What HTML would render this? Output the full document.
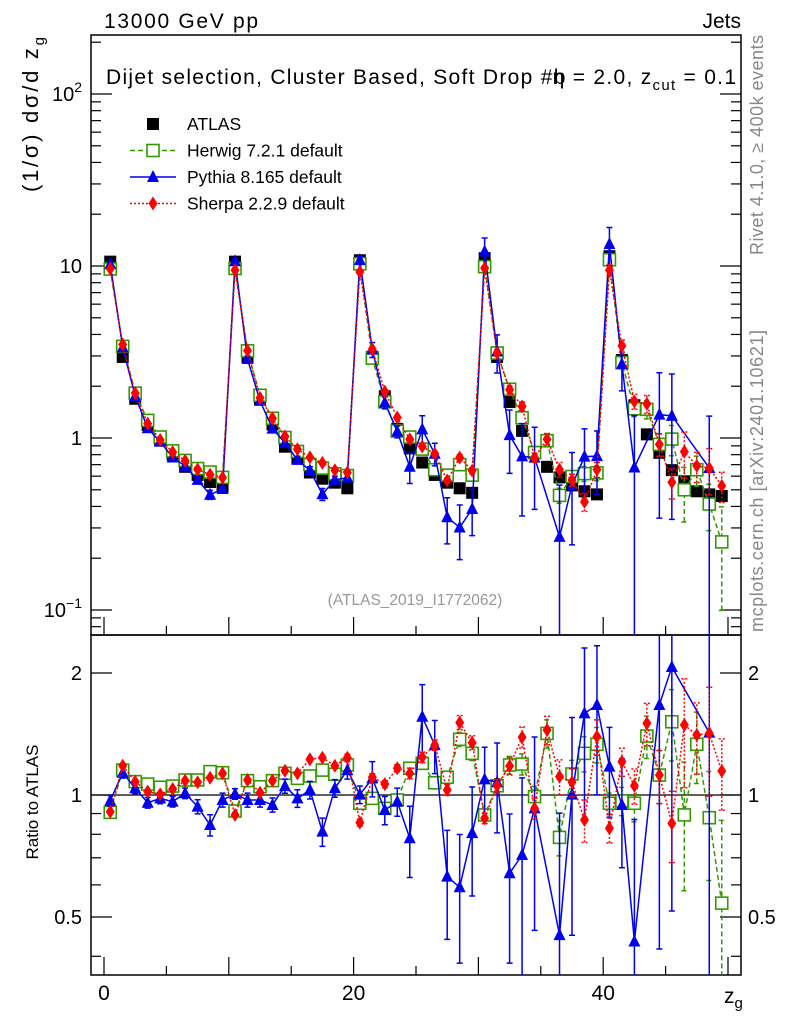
<!DOCTYPE html>
<html><head><meta charset="utf-8"><style>
body{margin:0;background:#fff;overflow:hidden}
svg{display:block;font-family:"Liberation Sans",sans-serif}
</style></head><body>
<svg id="c" width="786" height="1024" viewBox="0 0 786 1024" xmlns="http://www.w3.org/2000/svg">
<defs>
<clipPath id="cm"><rect x="91" y="35" width="650" height="600"/></clipPath>
<clipPath id="cr"><rect x="91" y="635" width="650" height="340"/></clipPath>
</defs>
<text x="104" y="28" font-size="21" textLength="154">13000 GeV pp</text>
<text x="741" y="28" font-size="21" text-anchor="end">Jets</text>
<text x="106" y="84" font-size="21" textLength="630" lengthAdjust="spacing">Dijet selection, Cluster Based, Soft Drop #b<tspan dx="-14">η = 2.0, z</tspan><tspan font-size="15" dy="6">cut</tspan><tspan dy="-6"> = 0.1</tspan></text>
<text transform="translate(38,192) rotate(-90)" font-size="22" textLength="155">(1/σ) dσ/d z<tspan font-size="15" dy="6">g</tspan></text>
<text transform="translate(38,802) rotate(-90)" font-size="17" text-anchor="middle">Ratio to ATLAS</text>
<text transform="translate(763,255) rotate(-90)" font-size="18" fill="#888" textLength="220">Rivet 4.1.0, ≥ 400k events</text>
<text transform="translate(763,632) rotate(-90)" font-size="18" fill="#888" textLength="302">mcplots.cern.ch [arXiv:2401.10621]</text>
<text x="415" y="605" font-size="15.5" fill="#999" text-anchor="middle">(ATLAS_2019_I1772062)</text>
<text x="724" y="1003" font-size="21">z<tspan font-size="15" dy="5">g</tspan></text>
<g id="axes"></g>
<g id="series-main" clip-path="url(#cm)"></g>
<g id="series-ratio" clip-path="url(#cr)"></g>
<g id="legend"></g>
</svg>
<script>
const bins = [0.5,1.5,2.5,3.5,4.5,5.5,6.5,7.5,8.5,9.5,10.5,11.5,12.5,13.5,14.5,15.5,16.5,17.5,18.5,19.5,20.5,21.5,22.5,23.5,24.5,25.5,26.5,27.5,28.5,29.5,30.5,31.5,32.5,33.5,34.5,35.5,36.5,37.5,38.5,39.5,40.5,41.5,42.5,43.5,44.5,45.5,46.5,47.5,48.5,49.5];
const atlas = [10.6,2.96,1.69,1.19,0.97,0.80,0.68,0.61,0.555,0.52,10.6,2.96,1.69,1.2,0.89,0.76,0.63,0.58,0.55,0.51,10.8,2.97,1.75,1.13,0.87,0.72,0.61,0.55,0.51,0.48,11.1,2.96,1.62,1.10,0.83,0.68,0.59,0.53,0.49,0.47,11.4,2.84,1.55,1.05,0.82,0.65,0.56,0.49,0.47,0.46];
const herwigRatio = [0.906,1.152,1.079,1.064,1.045,1.052,1.089,1.089,1.142,1.135,0.913,1.085,1.048,1.085,1.131,1.099,1.114,1.152,1.125,1.186,0.954,0.981,0.927,0.972,1.164,1.197,1.072,1.106,1.372,1.267,0.893,1.054,1.186,1.192,0.991,1.419,0.786,1.127,1.267,1.334,0.954,0.967,0.954,1.398,1.12,1.516,0.893,1.334,0.879,0.541];
const pythiaRatio = [0.968,1.135,1.039,0.957,0.981,0.963,1.01,0.936,0.843,0.972,1.006,0.972,0.972,0.945,1.052,0.981,1.029,0.812,1.039,1.152,1.002,1.099,0.918,0.963,0.782,1.56,1.328,0.629,0.592,0.805,1.093,1.075,0.641,0.711,0.927,null,0.451,1.002,1.59,1.668,1.175,0.945,0.435,null,1.668,2.07,null,null,1.425,null];
const sherpaRatio = [0.909,1.181,1.079,1.019,1.004,1.035,1.085,1.075,1.103,1.131,0.893,1.089,1.013,1.085,1.148,1.131,1.225,1.236,1.181,1.236,0.855,1.106,1.064,1.164,1.131,1.239,1.328,1.029,1.509,1.346,0.876,1.054,1.179,1.388,0.927,1.447,1.11,1.075,0.868,1.393,0.828,1.208,1.054,1.503,1.12,0.851,1.489,1.406,1.419,1.146];
const pythiaErr = [0.03,0.03,0.03,0.03,0.03,0.03,0.03,0.04,0.06,0.04,0.03,0.04,0.04,0.04,0.04,0.05,0.05,0.08,0.05,0.05,0.05,0.1,0.08,0.08,0.2,0.2,0.15,0.3,0.35,0.3,0.2,0.25,0.4,0.55,0.5,0,1.0,0.55,0.45,0.4,0.25,0.3,1.0,0,0.75,0.75,0,0,1.0,0];
const herwigErr = [0.01,0.01,0.01,0.01,0.01,0.01,0.01,0.01,0.01,0.01,0.01,0.01,0.01,0.01,0.01,0.01,0.01,0.01,0.01,0.02,0.02,0.02,0.02,0.02,0.03,0.03,0.03,0.03,0.04,0.04,0.03,0.04,0.05,0.06,0.06,0.08,0.1,0.08,0.1,0.1,0.06,0.08,0.1,0.12,0.15,0.2,0.35,0.2,0.3,0.6];
const sherpaErr = [0.01,0.01,0.01,0.01,0.01,0.01,0.01,0.01,0.01,0.01,0.01,0.01,0.01,0.01,0.01,0.01,0.01,0.01,0.01,0.02,0.02,0.02,0.02,0.02,0.03,0.03,0.03,0.03,0.04,0.04,0.03,0.04,0.05,0.06,0.06,0.08,0.1,0.08,0.12,0.1,0.08,0.08,0.1,0.12,0.15,0.2,0.3,0.2,0.3,0.2];
const xTicks = [0,20,40];
const yMainTicks = [100,10,1,0.1];
const yRatioTicks = [2,1,0.5];

const NS='http://www.w3.org/2000/svg';
const X = v => 104 + 12.48*v;
const Ym = v => 438 - 172*Math.log10(v);
const Yr = r => 795 - 122*Math.log2(r);
function mk(parent,tag,attrs){const e=document.createElementNS(NS,tag);for(const k in attrs)e.setAttribute(k,attrs[k]);parent.appendChild(e);return e;}
const axes=document.getElementById('axes');
const gm=document.getElementById('series-main');
const gr=document.getElementById('series-ratio');
const leg=document.getElementById('legend');

let f1=mk(axes,'rect',{x:91,y:35,width:650,height:600,fill:'none',stroke:'#000','stroke-width':1.5});


let f2=mk(axes,'rect',{x:91,y:635,width:650,height:340,fill:'none',stroke:'#000','stroke-width':1.5});


let one=mk(axes,'line',{x1:91,x2:741,y1:Yr(1),y2:Yr(1),stroke:'#000','stroke-width':1.2});



for(let v=0;v<=50;v+=5){
  const L = v%10===0?18:9;
  for(const yb of [635,975]){
    const t=mk(axes,'line',{x1:X(v),x2:X(v),y1:yb,y2:yb-L,stroke:'#000','stroke-width':1.2});
    
    
  }
}
xTicks.forEach(v=>{
  const t=mk(axes,'text',{x:X(v),y:1000,'font-size':21,'text-anchor':'middle'});
  t.textContent=v;
  
  
});
for(let d=-2;d<=2;d++){
  for(let m=1;m<=9;m++){
    const v=m*Math.pow(10,d); const y=Ym(v);
    if(y<35||y>635)continue;
    const L=m===1?21:10;
    const t1=mk(axes,'line',{x1:91,x2:91+L,y1:y,y2:y,stroke:'#000','stroke-width':1.2});
    
    
    const t2=mk(axes,'line',{x1:741,x2:741-L,y1:y,y2:y,stroke:'#000','stroke-width':1.2});
    
    
  }
}
yMainTicks.forEach(v=>{
  const t=mk(axes,'text',{x:82,y:Ym(v)+7,'font-size':20,'text-anchor':'end'});
  const e=Math.round(Math.log10(v));
  if(e===1)t.textContent='10';
  else if(e===0)t.textContent='1';
  else{t.textContent='10';const s=mk(t,'tspan',{dy:-9,'font-size':14});s.textContent=(e<0?'−':'')+Math.abs(e);}
  
  
});
[0.4,0.5,0.6,0.7,0.8,0.9,1,2].forEach(v=>{
  const y=Yr(v); if(y<635||y>975)return;
  const L=(v===1||v===2||v===0.5)?21:10;
  const t1=mk(axes,'line',{x1:91,x2:91+L,y1:y,y2:y,stroke:'#000','stroke-width':1.2});
  
  
  const t2=mk(axes,'line',{x1:741,x2:741-L,y1:y,y2:y,stroke:'#000','stroke-width':1.2});
  
  
});
yRatioTicks.forEach(v=>{
  const a=mk(axes,'text',{x:82,y:Yr(v)+7,'font-size':20,'text-anchor':'end'});
  a.textContent=v;
  
  
  const b=mk(axes,'text',{x:748,y:Yr(v)+7,'font-size':20});
  b.textContent=v;
  
  
});

function marker(g,type,x,y,name){
  let e;
  if(type==='sq') e=mk(g,'rect',{x:x-6,y:y-6,width:12,height:12,fill:'#000'});
  else if(type==='osq') e=mk(g,'rect',{x:x-6,y:y-6,width:12,height:12,fill:'#fff',stroke:'#339900','stroke-width':1.6});
  else if(type==='tri') e=mk(g,'polygon',{points:`${x},${y-7} ${x-6},${y+5} ${x+6},${y+5}`,fill:'#0000ee'});
  else e=mk(g,'polygon',{points:`${x},${y-7} ${x-4.5},${y} ${x},${y+7} ${x+4.5},${y}`,fill:'#ff0000'});
  
  
}
const series=[
  {name:'herwig',ratio:herwigRatio,err:herwigErr,color:'#339900',dash:'5,3',m:'osq'},
  {name:'pythia',ratio:pythiaRatio,err:pythiaErr,color:'#0000ee',dash:'',m:'tri'},
  {name:'sherpa',ratio:sherpaRatio,err:sherpaErr,color:'#ff0000',dash:'2,2',m:'dia'}
];
function drawSeries(g,yf,valf,s,panel){
  let pts=[];
  bins.forEach((b,i)=>{const v=valf(i); if(v!=null) pts.push(X(b)+','+yf(v));});
  const pl=mk(g,'polyline',{points:pts.join(' '),fill:'none',stroke:s.color,'stroke-width':1.5,'stroke-dasharray':s.dash});
  
  
  bins.forEach((b,i)=>{
    const v=valf(i); if(v==null)return;
    const e=s.err[i];
    if(e>0){
      const lo=Math.max(v*(1-e),1e-4), hi=v*(1+e);
      const eb=mk(g,'path',{d:`M${X(b)},${yf(lo)}V${yf(hi)}M${X(b)-3},${yf(lo)}h6M${X(b)-3},${yf(hi)}h6`,stroke:s.color,'stroke-width':1.5,fill:'none','stroke-dasharray':s.dash});
      
      
    }
  });
  bins.forEach((b,i)=>{const v=valf(i); if(v==null)return; marker(g,s.m,X(b),yf(v),s.name+'-point');});
}
bins.forEach((b,i)=>marker(gm,'sq',X(b),Ym(atlas[i]),'atlas-point'));
series.forEach(s=>drawSeries(gm,Ym,i=>s.ratio[i]==null?null:atlas[i]*s.ratio[i],s,'main'));
series.forEach(s=>drawSeries(gr,Yr,i=>s.ratio[i],s,'ratio'));

const labels=['ATLAS','Herwig 7.2.1 default','Pythia 8.165 default','Sherpa 2.2.9 default'];
const types=['sq','osq','tri','dia'];
const cols=['#000','#339900','#0000ee','#ff0000'];
const dashes=['','5,3','','2,2'];
labels.forEach((l,i)=>{
  const y=124+i*26.5;
  if(i>0){
    const ln=mk(leg,'line',{x1:130,x2:176,y1:y,y2:y,stroke:cols[i],'stroke-width':1.5,'stroke-dasharray':dashes[i]});
    
    
  }
  marker(leg,types[i],153,y,'legend-marker');
  const t=mk(leg,'text',{x:187,y:y+6,'font-size':17.5});
  t.textContent=l;
  
  
});
</script>
</body></html>
